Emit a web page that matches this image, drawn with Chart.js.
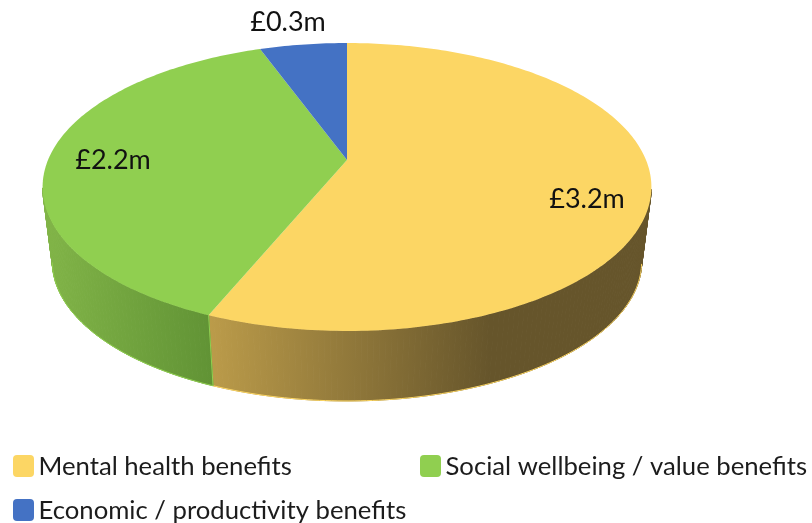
<!DOCTYPE html>
<html>
<head>
<meta charset="utf-8">
<script src="https://cdn.jsdelivr.net/npm/chart.js@4"></script>
<style>
  html, body { margin: 0; padding: 0; background: #fff; }
  #wrap { position: relative; width: 812px; height: 523px; overflow: hidden; }
</style>
</head>
<body>
<div id="wrap"><canvas id="pie" width="812" height="523"></canvas></div>
<script>
// Chart data
const categories = ['Mental health benefits', 'Social wellbeing / value benefits', 'Economic / productivity benefits'];
const benefitValues = [3.24, 2.2, 0.32]; // £m
const sliceColours = ['#FCD664', '#90CF50', '#4472C4'];

// Perspective of the tilted disc, the apex sits above the ellipse centre
const disc = { cx: 347, apexY: 160, radius: 299, tiltY: 108.9, k: -0.1875 };
const depth = { shrink: 0.968, drop: 80.6 };

// Side wall gradients, [x, colour] stops per slice
const sideStops = [
    [[207, '#BC9C4A'], [490, '#66552B'], [651, '#66552B']],
    [[42, '#82B548'], [212, '#619335'], [347, '#619335']],
    [[260, '#2F5597'], [347, '#2F5597']]
];

const labelSpots = [[587, 199], [113, 160], [288, 22]];
const legendSpots = [[13, 466], [420, 466], [13, 510]];
const FONT = 'Lato, "Noto Sans", sans-serif';

function topPoint(angle) {
    const u = Math.cos(angle), v = Math.sin(angle);
    const w = 1 + disc.k * v;
    return [disc.cx + disc.radius * u / w, (disc.tiltY * v + disc.apexY) / w];
}

function bottomPoint(angle) {
    const p = topPoint(angle);
    return [disc.cx + (p[0] - disc.cx) * depth.shrink, p[1] * depth.shrink + depth.drop];
}

// Step angles across a slice
function arcAngles(start, end) {
    const angles = [];
    const steps = Math.max(8, Math.ceil((end - start) * 60));
    for (let i = 0; i <= steps; i++) {
        angles.push(start + (end - start) * i / steps);
    }
    return angles;
}

// Only the front of the disc shows a wall, the silhouette is at sin = -k
function isFront(angle) {
    return Math.sin(angle) >= -disc.k;
}

function tracePath(ctx, pts, close) {
    ctx.beginPath();
    pts.forEach((p, i) => i ? ctx.lineTo(p[0], p[1]) : ctx.moveTo(p[0], p[1]));
    if (close) ctx.closePath();
}

const disc3d = {
    id: 'disc3d',
    // the slices get drawn here, so skip the flat circle
    beforeDatasetDraw(chart) {
        const ctx = chart.ctx;
        const arcs = chart.getDatasetMeta(0).data;

        // Side walls first
        arcs.forEach((arc, i) => {
            const front = arcAngles(arc.startAngle, arc.endAngle).filter(isFront);
            if (front.length < 2) return;
            const top = front.map(topPoint);
            const bottom = front.map(bottomPoint);
            const stops = sideStops[i];
            const x0 = stops[0][0], x1 = stops[stops.length - 1][0];
            const grad = ctx.createLinearGradient(x0, 0, x1, 0);
            stops.forEach(s => grad.addColorStop((s[0] - x0) / (x1 - x0), s[1]));
            ctx.fillStyle = grad;
            ctx.strokeStyle = grad;
            ctx.lineWidth = 1;
            // one quad per step so the wall also fills out to the silhouette
            for (let s = 0; s < top.length - 1; s++) {
                tracePath(ctx, [top[s], top[s + 1], bottom[s + 1], bottom[s]], true);
                ctx.fill();
                ctx.stroke();
            }
            // light rim along the lower edge and the end seam
            ctx.strokeStyle = sliceColours[i];
            tracePath(ctx, bottom, false);
            ctx.stroke();
            if (isFront(arc.startAngle)) {
                tracePath(ctx, [top[0], bottom[0]], false);
                ctx.stroke();
            }
        });

        arcs.forEach((arc, i) => {
            const pts = arcAngles(arc.startAngle, arc.endAngle).map(topPoint);
            pts.unshift([disc.cx, disc.apexY]);
            tracePath(ctx, pts, true);
            ctx.fillStyle = sliceColours[i];
            ctx.fill();
        });
        return false;
    },
    afterDraw(chart) {
        const ctx = chart.ctx;
        ctx.save();
        ctx.textBaseline = 'middle';

        // Value labels
        ctx.font = '27px ' + FONT;
        ctx.fillStyle = '#111';
        ctx.textAlign = 'center';
        benefitValues.forEach((v, i) => {
            ctx.fillText('£' + v.toFixed(1) + 'm', labelSpots[i][0], labelSpots[i][1]);
        });

        // Legend, two columns wide with a wrapped third entry
        ctx.font = '25.7px ' + FONT;
        ctx.textAlign = 'left';
        categories.forEach((name, i) => {
            const [x, y] = legendSpots[i];
            ctx.beginPath();
            ctx.roundRect(x, y - 11, 21, 22, 4);
            ctx.fillStyle = sliceColours[i];
            ctx.fill();
            ctx.fillStyle = '#1c1c1c';
            ctx.fillText(name, x + 25.5, y + 1);
        });
        ctx.restore();
    }
};

new Chart(document.getElementById('pie'), {
    type: 'pie',
    data: {
        labels: categories,
        datasets: [{ data: benefitValues, backgroundColor: sliceColours, borderWidth: 0 }]
    },
    options: {
        responsive: false,
        animation: false,
        plugins: { legend: { display: false }, tooltip: { enabled: false } }
    },
    plugins: [disc3d]
});
</script>
</body>
</html>
